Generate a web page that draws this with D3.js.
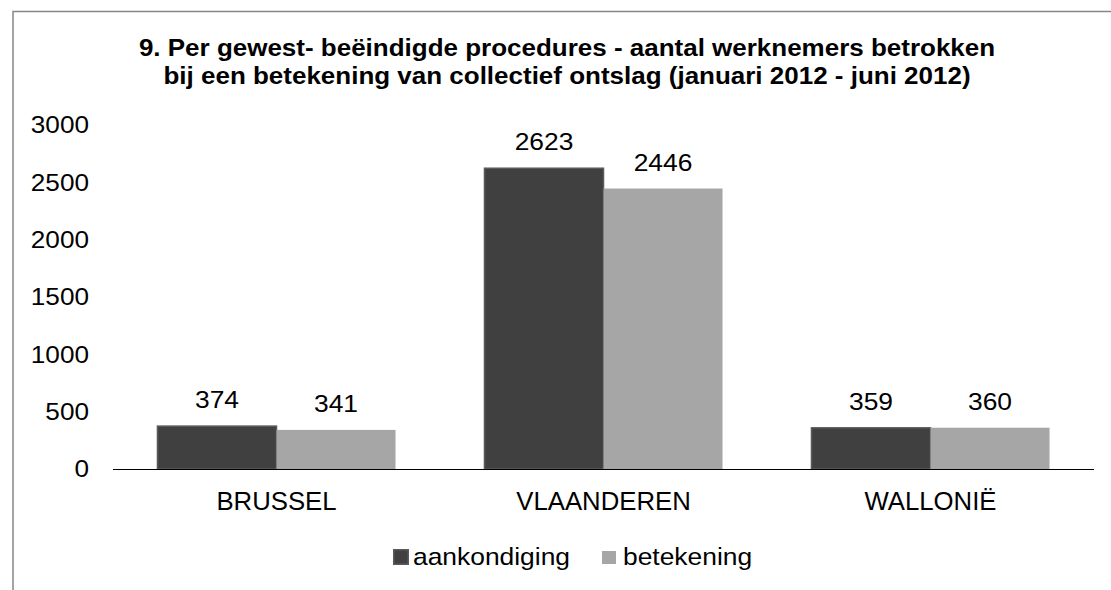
<!DOCTYPE html>
<html>
<head>
<meta charset="utf-8">
<script src="https://cdnjs.cloudflare.com/ajax/libs/d3/7.8.5/d3.min.js"></script>
<style>
  body { margin: 0; background: #fff; }
  text { font-family: "Liberation Sans", Arial, sans-serif; fill: #000; }
</style>
</head>
<body>
<svg id="chart" width="1111" height="590"></svg>
<script>
var categories = ["BRUSSEL", "VLAANDEREN", "WALLONIË"];
var seriesNames = ["aankondiging", "betekening"];
var aankondiging = [374, 2623, 359];
var betekening = [341, 2446, 360];
var yTicks = [0, 500, 1000, 1500, 2000, 2500, 3000];
var titleLines = [
    "9. Per gewest- beëindigde procedures - aantal werknemers betrokken",
    "bij een betekening van collectief ontslag (januari 2012 - juni 2012)"
];

var colors = { aankondiging: "#404040", betekening: "#a6a6a6" };

var svg = d3.select("#chart");

// the original text is a bit wider than the font, so stretch it horizontally
function place(sel, fx, fy, sx) {
    sel.attr("transform", function(d, i) {
        return "translate(" + fx(d, i) + "," + fy(d, i) + ") scale(" + sx + ",1)";
    });
}

// outer frame (only top and left visible in picture)
svg.append("path")
    .attr("d", "M13,600 L13,11.5 L1120,11.5")
    .attr("fill", "none")
    .attr("stroke", "#868686")
    .attr("stroke-width", 1.5);

// title
var title = svg.append("g").selectAll("text")
    .data(titleLines)
    .enter().append("text")
    .attr("text-anchor", "middle")
    .attr("font-size", 23)
    .attr("font-weight", "bold")
    .text(function(d) { return d; });
place(title, function() { return 567; }, function(d, i) { return 55.5 + i * 28; }, 1.13);

var y = d3.scaleLinear().domain([0, 3000]).range([469, 125]);
var x0 = d3.scaleBand().domain(categories).range([113, 1094])
    .paddingInner(0.272).paddingOuter(0.136);
var x1 = d3.scaleBand().domain(seriesNames).range([0, x0.bandwidth()]);

var rows = categories.map(function(c, i) {
    return { cat: c, values: [
        { key: "aankondiging", value: aankondiging[i] },
        { key: "betekening", value: betekening[i] }
    ] };
});

// y axis labels
var yLabels = svg.append("g").selectAll("text")
    .data(yTicks)
    .enter().append("text")
    .attr("dy", "0.35em")
    .attr("text-anchor", "end")
    .attr("font-size", 24)
    .text(function(d) { return d; });
place(yLabels, function() { return 89; }, function(d) { return y(d); }, 1.09);

var groups = svg.append("g").selectAll("g")
    .data(rows)
    .enter().append("g")
    .attr("transform", function(d) { return "translate(" + x0(d.cat) + ",0)"; });

groups.selectAll("rect")
    .data(function(d) { return d.values; })
    .enter().append("rect")
    .attr("x", function(d) { return x1(d.key); })
    .attr("y", function(d) { return y(d.value); })
    .attr("width", x1.bandwidth())
    .attr("height", function(d) { return y(0) - y(d.value); })
    .attr("fill", function(d) { return colors[d.key]; })
    .attr("stroke", function(d) { return d.key == "aankondiging" ? "#5a5a5a" : "none"; })
    .attr("stroke-width", 1.5);

var valLabels = groups.selectAll("text")
    .data(function(d) { return d.values; })
    .enter().append("text")
    .attr("text-anchor", "middle")
    .attr("font-size", 24)
    .text(function(d) { return d.value; });
place(valLabels, function(d) { return x1(d.key) + x1.bandwidth() / 2; },
    function(d) { return y(d.value) - 18; }, 1.1);

// x axis
svg.append("line")
    .attr("x1", 113).attr("x2", 1094)
    .attr("y1", y(0) + 0.5).attr("y2", y(0) + 0.5)
    .attr("stroke", "#000")
    .attr("stroke-width", 1);

var catLabels = svg.append("g").selectAll("text")
    .data(categories)
    .enter().append("text")
    .attr("text-anchor", "middle")
    .attr("font-size", 25)
    .text(function(d) { return d; });
place(catLabels, function(d) { return x0(d) + x0.bandwidth() / 2; }, function() { return 510; }, 1.03);

// legend
var legend = svg.append("g");
var legendX = [393, 602];
seriesNames.forEach(function(name, i) {
    var g = legend.append("g").attr("transform", "translate(" + legendX[i] + ",0)");
    if (i == 0) {
        g.append("rect").attr("x", 0.75).attr("y", 549.75).attr("width", 14.5).attr("height", 14.5)
            .attr("fill", colors[name]).attr("stroke", "#5a5a5a").attr("stroke-width", 1.5);
    } else {
        g.append("rect").attr("x", 0).attr("y", 551).attr("width", 14).attr("height", 13)
            .attr("fill", colors[name]);
    }
    g.append("text")
        .attr("transform", "translate(" + (i == 0 ? 20 : 21) + ",565) scale(1.1,1)")
        .attr("font-size", 24)
        .text(name);
});
</script>
</body>
</html>
